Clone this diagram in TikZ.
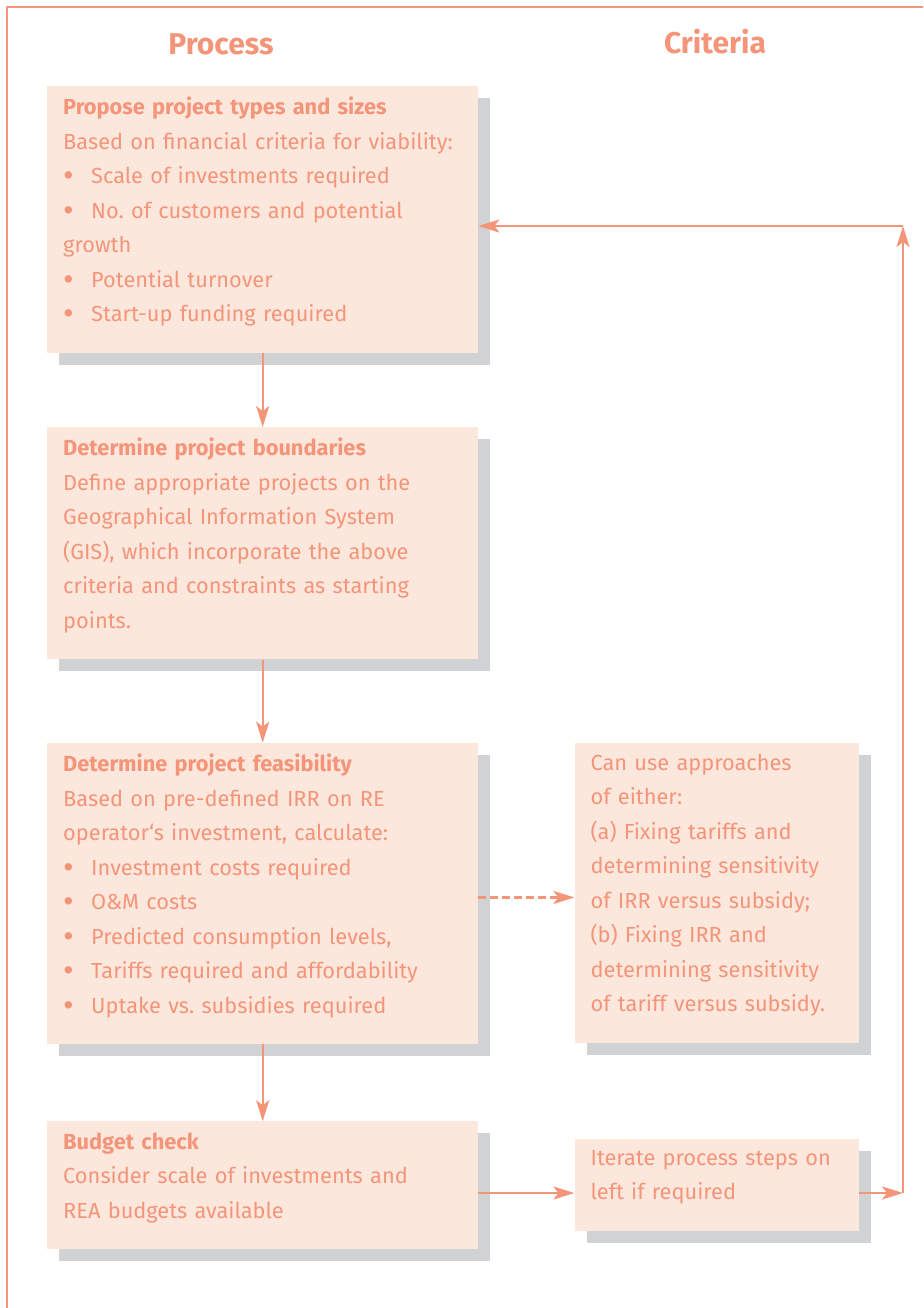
\documentclass[tikz,border=0pt]{standalone}
\usepackage{fontspec}
\setmainfont{Fira Sans}
\usetikzlibrary{arrows.meta,positioning,shadows}
\definecolor{salmon}{HTML}{F4957A}
\definecolor{blush}{HTML}{FCE7DD}
\definecolor{ash}{HTML}{D1D2D4}
\newcommand{\itm}{\makebox[28pt][l]{\raisebox{-3pt}{\scalebox{1.5}{\textbullet}}}}
\frenchspacing

\begin{document}
\begin{tikzpicture}[x=1pt,y=-1pt,
          every node/.style={font=\fontsize{21.8}{34.5}\selectfont,text=salmon},
          stepbox/.style={fill=blush,draw=none,align=left,anchor=north west,
              inner xsep=16pt,inner ysep=11pt,text width=399pt,
              execute at end node={\rule[-20pt]{0pt}{1pt}},
              copy shadow={shadow xshift=12pt,shadow yshift=-12pt,fill=ash,draw=none}},
          notebox/.style={stepbox,text width=252pt},
          heading/.style={font=\fontsize{30}{36}\selectfont\bfseries},
          link/.style={-{Stealth[length=21pt,width=13pt,inset=5pt]},line width=2.3pt,draw=salmon}]
        \useasboundingbox (0,0) rectangle (923,1308);
        \draw[salmon,line width=1.5pt] (7,1308) -- (7,7) -- (923,7);
        \node[heading] (proc) at (221,44) {Process};
        \node[heading] (crit) at (715,42) {Criteria};
        \node[stepbox] (a) at (47,86) {\textbf{Propose project types and sizes}\\
            Based on financial criteria for viability:\\
            \itm Scale of investments required\\
            \itm No. of customers and potential\\
            growth\\
            \itm Potential turnover\\
            \itm Start-up funding required};
        \node[stepbox,below=74pt of a] (b) {\textbf{Determine project boundaries}\\
            Define appropriate projects on the\\
            Geographical Information System\\
            (GIS), which incorporate the above\\
            criteria and constraints as starting\\
            points.};
        \node[stepbox,below=83pt of b] (c) {\textbf{Determine project feasibility}\\
            Based on pre-defined IRR on RE\\
            operator‘s investment, calculate:\\
            \itm Investment costs required\\
            \itm O\&M costs\\
            \itm Predicted consumption levels,\\
            \itm Tariffs required and affordability\\
            \itm Uptake vs. subsidies required};
        \node[stepbox,below=77pt of c] (d) {\textbf{Budget check}\\
            Consider scale of investments and\\
            REA budgets available};
        \node[notebox] (e) at ([xshift=96pt]c.north east) {Can use approaches\\
            of either:\\
            (a) Fixing tariffs and\\
            determining sensitivity\\
            of IRR versus subsidy;\\
            (b) Fixing IRR and\\
            determining sensitivity\\
            of tariff versus subsidy.};
        \node[notebox,anchor=west,right=96pt of d] (f) {Iterate process steps on\\
            left if required};
        \coordinate (turn) at (903,1193);
        \coordinate (back) at (903,226);
        \foreach \x/\y in {a/b,b/c,c/d}
        \draw[link] (\x)--(\y);
        \draw[link,dash pattern=on 8pt off 4pt] ([yshift=-4pt]c.east) -- ([yshift=-4pt]e.west |- c.east);
        \draw[link] (d.east |- turn) -- (f.west |- turn);
        \draw[link] (f.east |- turn) -- (turn);
        \draw[link] (turn) -- (back);
        \draw[link] (back) -- (a.east |- back);
      \end{tikzpicture}
\end{document}
